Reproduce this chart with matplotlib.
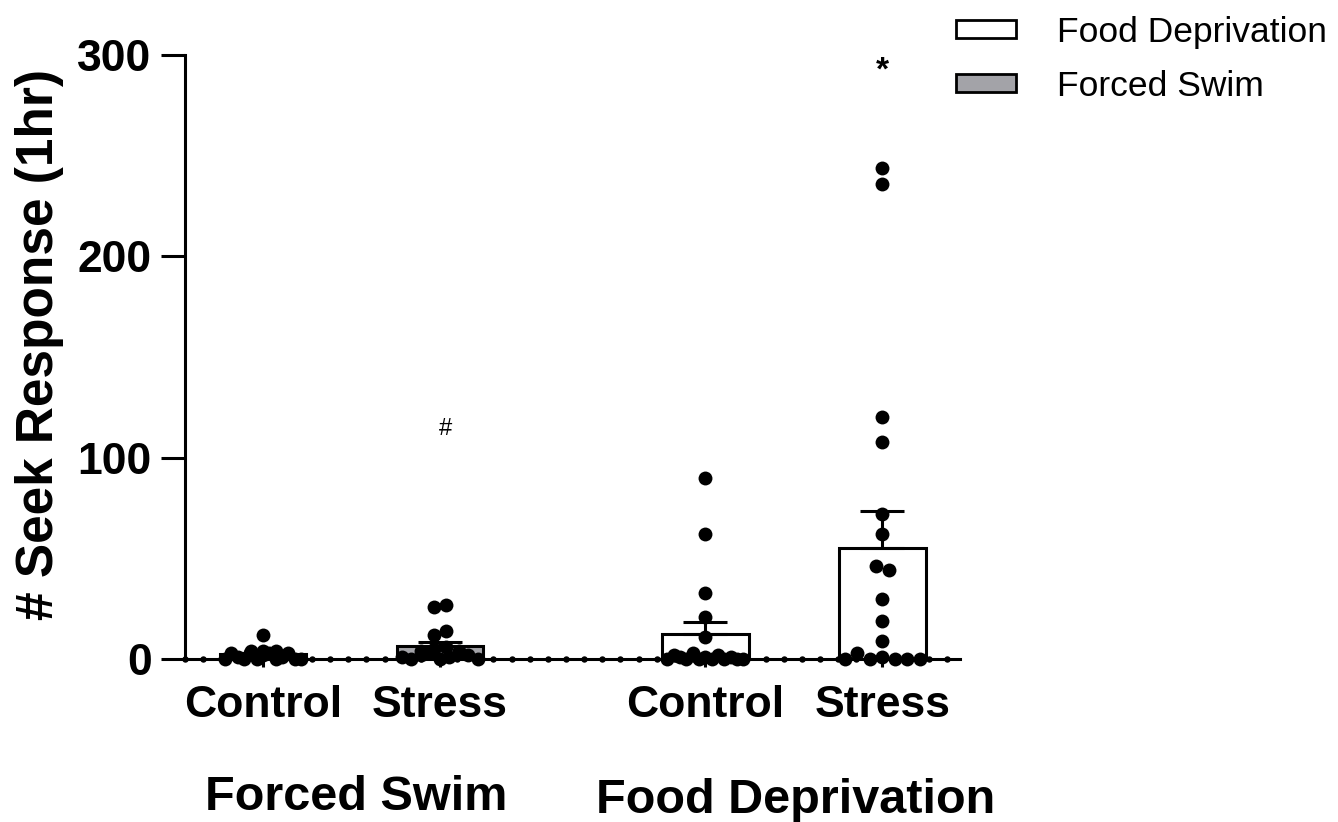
import numpy as np
import matplotlib.pyplot as plt
from matplotlib.patches import Patch

plt.rcParams['font.family'] = ['Liberation Sans', 'DejaVu Sans']

# seek responses per animal
fs_control = [0, 3, 1, 4, 0, 3, 0, 4, 12, 2, 3, 0, 4, 1, 3, 0, 0]
fs_stress = [1, 4, 0, 26, 27, 2, 5, 3, 0, 12, 14, 1, 6, 3, 2, 4, 0]
fd_control = [0, 2, 1, 90, 0, 3, 0, 62, 1, 0, 33, 2, 0, 21, 1, 11, 0, 0]
fd_stress = [0, 3, 244, 0, 236, 1, 120, 0, 108, 0, 72, 0, 62, 46, 44, 30, 19, 9]

groups = [fs_control, fs_stress, fd_control, fd_stress]
tick_labels = ['Control', 'Stress', 'Control', 'Stress']
group_names = ['Forced Swim', 'Food Deprivation']
legend_names = ['Food Deprivation', 'Forced Swim']
marks = ['', '#', '', '*']
mark_y = [None, 114, None, 292]

xpos = np.array([0, 1, 2.5, 3.5])
grey = '#a3a3a8'
fills = [grey, grey, 'white', 'white']

W, H = 1338, 822
fig = plt.figure(figsize=(W / 100, H / 100), dpi=100)
ax = fig.add_axes([185 / W, 1 - 659 / H, 775 / W, 604 / H])

x0, x1 = -0.4407, 3.938
ax.set_xlim(x0, x1)
ax.set_ylim(0, 300)

# pixels per x unit, for spreading the points sideways
xpx = 775 / (x1 - x0)


def swarm(vals, d=12.5, limit=38, row=3.5):
    # points with close values share a row and sit side by side (in the
    # order they were recorded), squeezed when the row gets wider than the bar
    vals = np.asarray(vals, float)
    xs = np.zeros(len(vals))
    rows = []
    for i in np.argsort(vals, kind='stable'):
        if rows and vals[i] - vals[rows[-1][0]] < row:
            rows[-1].append(i)
        else:
            rows.append([i])
    for r in rows:
        n = len(r)
        if n > 1:
            s = min(d, 2 * limit / (n - 1))
            xs[sorted(r)] = (np.arange(n) - (n - 1) / 2) * s
    return xs / xpx


lw = 2.2
for x, v, fc, m, my in zip(xpos, groups, fills, marks, mark_y):
    v = np.asarray(v, float)
    mean = v.mean()
    sem = v.std(ddof=1) / np.sqrt(len(v))
    ax.bar(x, mean, width=0.49, color=fc, edgecolor='black', linewidth=lw, zorder=2)
    ax.errorbar(x, mean, yerr=[[0], [sem]], color='black', elinewidth=lw,
                capsize=15.5, capthick=lw, zorder=3)
    ax.scatter(x + swarm(v), v, s=100, color='black', linewidths=0,
               zorder=4, clip_on=False)
    if m:
        ax.text(x + (0.03 if m == '#' else 0), my, m, ha='center', va='center',
                fontsize=17 if m == '#' else 24,
                fontweight='normal' if m == '#' else 'bold')

# small dots running along the baseline
ax.plot(x0 + 0.1025 * np.arange(43), np.zeros(43), 'o', color='black',
        markersize=3.6, clip_on=False, zorder=1)

for s in ['top', 'right']:
    ax.spines[s].set_visible(False)
for s in ['left', 'bottom']:
    ax.spines[s].set_linewidth(lw)

ax.set_yticks([0, 100, 200, 300])
ax.set_xticks(xpos)
ax.set_xticklabels(tick_labels)
ax.tick_params(axis='y', length=17, width=lw, pad=7, labelsize=32)
ax.tick_params(axis='x', length=6, width=lw, pad=13, labelsize=32)
for t in ax.get_xticklabels() + ax.get_yticklabels():
    t.set_fontweight('bold')

ax.set_ylabel('# Seek Response (1hr)', fontsize=37, fontweight='bold')
ax.yaxis.set_label_coords(-0.156, 0.52)

fig.text(356 / W, 1 - 797 / H, group_names[0], ha='center', va='center',
         fontsize=35, fontweight='bold')
fig.text(796 / W, 1 - 800 / H, group_names[1], ha='center', va='center',
         fontsize=35, fontweight='bold')

handles = [Patch(facecolor='white', edgecolor='black', linewidth=2),
           Patch(facecolor=grey, edgecolor='black', linewidth=2)]
fig.legend(handles, legend_names, loc='upper left',
           bbox_to_anchor=(956 / W, 1 - 16 / H), frameon=False, fontsize=25.5,
           handlelength=1.7, handleheight=0.4, handletextpad=1.15,
           labelspacing=0.58, borderpad=0, borderaxespad=0)

fig.savefig('out.png', dpi=100)
